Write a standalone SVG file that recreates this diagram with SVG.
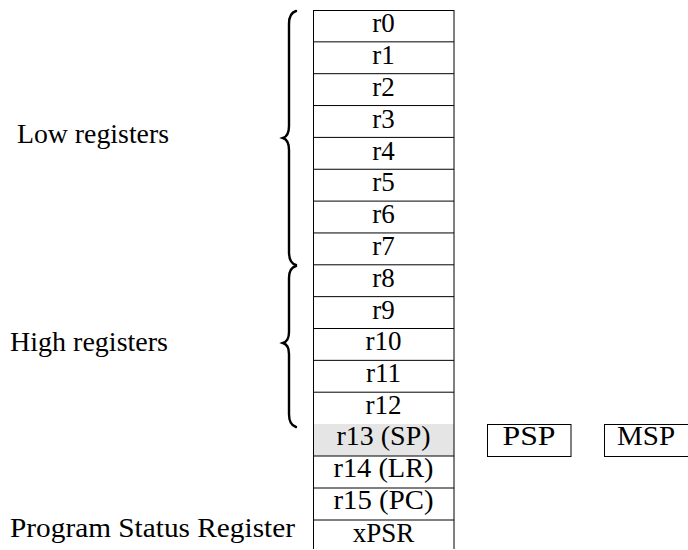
<svg xmlns="http://www.w3.org/2000/svg" width="688" height="550" viewBox="0 0 688 550">
<style>
text{font-family:"Liberation Serif","Times New Roman",serif;font-size:27px;fill:#000}
.c{text-anchor:middle}
.ln{stroke:#000;stroke-width:1;fill:none}
.br{stroke:#000;stroke-width:2.4;fill:none;stroke-linecap:round}
.box{fill:#fff;stroke:#000;stroke-width:1}
</style>
<rect width="688" height="550" fill="#fff"/>
<g id="labels">
<text x="17" y="143" textLength="152" lengthAdjust="spacingAndGlyphs">Low registers</text>
<text x="10" y="351" textLength="158" lengthAdjust="spacingAndGlyphs">High registers</text>
<text x="10" y="537" textLength="285" lengthAdjust="spacingAndGlyphs">Program Status Register</text>
</g>
<g id="braces">
<path class="br" d="M296 11 Q289 13 289 24 L289 126 Q289 136 283 138 Q289 140 289 150 L289 252 Q289 263 296 265"/>
<path class="br" d="M296 266 Q289 268 289 278 L289 332 Q289 341 283 343 Q289 345 289 354 L289 414 Q289 425 296 427"/>
</g>
<g id="registers">
<rect x="313.5" y="424" width="140.5" height="32" fill="#e5e5e5"/>
<path class="ln" d="M313.5 10 V549 M454 10 V549 M313.5 10.5 H454
M313.5 41.85 H454 M313.5 73.7 H454 M313.5 105.55 H454 M313.5 137.4 H454 M313.5 169.25 H454 M313.5 201.1 H454 M313.5 232.95 H454 M313.5 264.8 H454 M313.5 296.65 H454 M313.5 328.5 H454 M313.5 360.35 H454 M313.5 392.2 H454
M313.5 456 H454 M313.5 488 H454 M313.5 520 H454"/>
<g id="r0"><text class="c" x="383.5" y="32">r0</text></g>
<g id="r1"><text class="c" x="383.5" y="64">r1</text></g>
<g id="r2"><text class="c" x="383.5" y="96">r2</text></g>
<g id="r3"><text class="c" x="383.5" y="128">r3</text></g>
<g id="r4"><text class="c" x="383.5" y="160">r4</text></g>
<g id="r5"><text class="c" x="383.5" y="191">r5</text></g>
<g id="r6"><text class="c" x="383.5" y="223">r6</text></g>
<g id="r7"><text class="c" x="383.5" y="255">r7</text></g>
<g id="r8"><text class="c" x="383.5" y="287">r8</text></g>
<g id="r9"><text class="c" x="383.5" y="319">r9</text></g>
<g id="r10"><text class="c" x="383.5" y="350">r10</text></g>
<g id="r11"><text class="c" x="383.5" y="382">r11</text></g>
<g id="r12"><text class="c" x="383.5" y="414">r12</text></g>
<g id="r13"><text class="c" x="383.5" y="445" textLength="94" lengthAdjust="spacingAndGlyphs">r13 (SP)</text></g>
<g id="r14"><text class="c" x="383.5" y="477" textLength="100" lengthAdjust="spacingAndGlyphs">r14 (LR)</text></g>
<g id="r15"><text class="c" x="383.5" y="509" textLength="100" lengthAdjust="spacingAndGlyphs">r15 (PC)</text></g>
<g id="xpsr"><text class="c" x="383.5" y="542">xPSR</text></g>
</g>
<g id="psp"><rect class="box" x="487.5" y="424.5" width="83.5" height="32"/><text class="c" x="529" y="445" textLength="53" lengthAdjust="spacingAndGlyphs">PSP</text></g>
<g id="msp"><rect class="box" x="604.5" y="424.5" width="84" height="32"/><text class="c" x="646" y="445" textLength="58" lengthAdjust="spacingAndGlyphs">MSP</text></g>
<g id="connectors"></g>
</svg>
